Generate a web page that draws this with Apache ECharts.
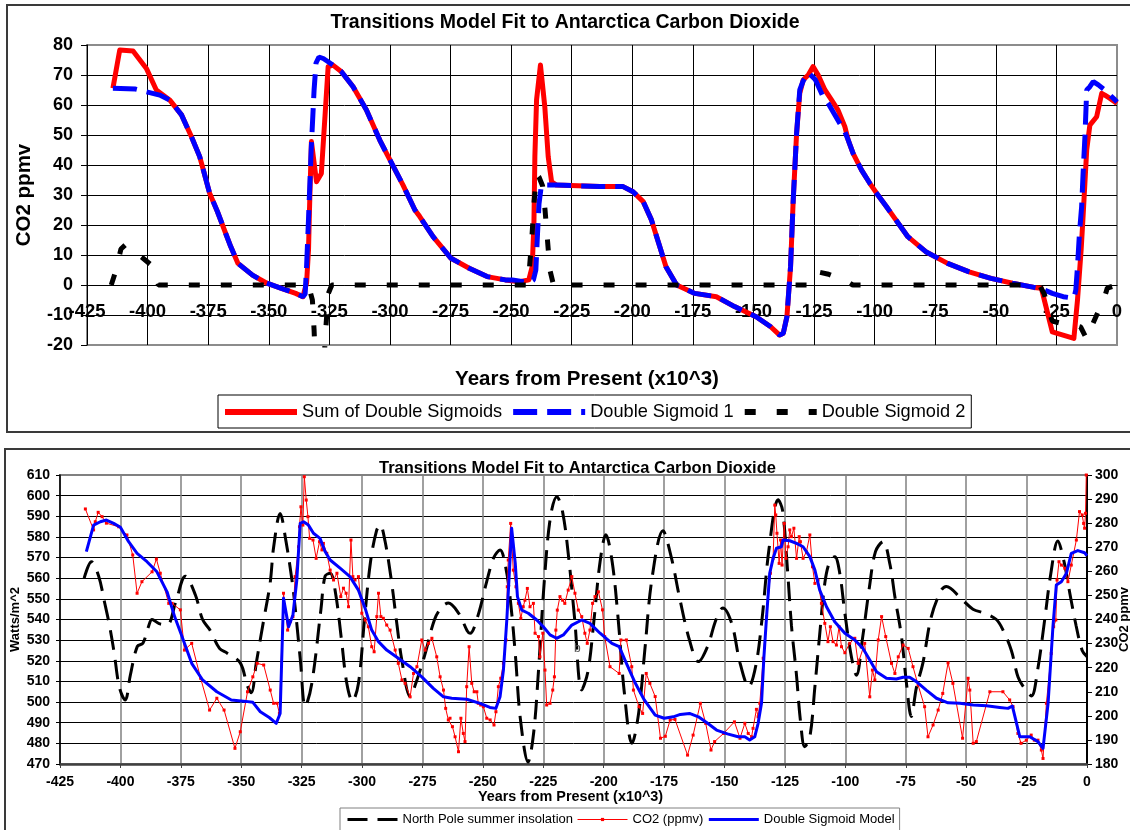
<!DOCTYPE html>
<html>
<head>
<meta charset="utf-8">
<title>Transitions Model Fit to Antarctica Carbon Dioxide</title>
<script src="https://cdn.jsdelivr.net/npm/echarts@6/dist/echarts.min.js"></script>
<style>
  html, body { margin: 0; padding: 0; background: #fff; }
  #chart { width: 1130px; height: 830px; }
</style>
</head>
<body>
<div id="chart"></div>
<script>

// top panel: fitted sigmoid curves (ppmv anomaly)
const sumPoints = [
  [-414.3,65.6],[-411.5,78.3],[-406,78],[-400.5,72.2],[-396.4,65],[-390.9,61.7],[-386,56.7],[-381.9,49.4],
  [-378.5,42.8],[-374.4,30.6],[-371.2,24.5],[-365.7,12.8],[-362.7,7.2],[-356.7,3.3],[-350.8,0.6],[-344.8,-1.1],
  [-338.9,-2.8],[-335.9,-3.9],[-334.4,0.6],[-333.6,11.7],[-333.2,25],[-332.4,47.8],[-330.3,34.4],[-328.3,37.2],
  [-325.5,72.8],[-323.5,73.3],[-320,71.1],[-315.2,66.1],[-309.7,58.3],[-304.2,48.3],[-301.4,43.9],[-294.6,33.3],
  [-289.7,25],[-287.7,22.8],[-282.2,16.1],[-274.8,8.9],[-267.3,5.6],[-259.9,2.8],[-252.4,1.7],[-246.5,1.1],
  [-242.7,1.7],[-241.3,6.1],[-240.6,20],[-240.2,42.8],[-239.5,61.7],[-237.9,73.3],[-236.1,59.4],[-234.7,42.8],
  [-233.3,34.4],[-231.3,33.3],[-213.4,32.8],[-203.8,32.8],[-199.7,31.1],[-195.5,27.8],[-192.1,21.7],[-189.1,13.9],
  [-186.1,6.1],[-181.7,0],[-174.2,-2.8],[-165.3,-3.9],[-157.8,-7.2],[-148.9,-10.6],[-142.9,-13.9],[-139.2,-16.7],
  [-137.7,-16.1],[-136.2,-10.6],[-134.7,6.1],[-133.6,28.3],[-132.2,50.6],[-130.9,63.9],[-129.5,68.3],[-127.4,70],
  [-125.4,72.8],[-123.3,70],[-120.5,65],[-117.8,61.7],[-115.1,58.3],[-112.3,52.8],[-110.9,48.3],[-108.9,43.9],
  [-105.4,38.3],[-102,33.9],[-99.2,30.6],[-95.1,26.1],[-91.7,22.2],[-86.3,16.1],[-78.9,11.1],[-69.9,7.2],
  [-61,4.4],[-52,2.2],[-43.1,0.6],[-34.2,-0.8],[-31.2,-1.1],[-26.7,-15.6],[-17.8,-17.8],[-16.3,-5],
  [-14.8,11.7],[-14,22.8],[-12.5,45],[-11.2,53.3],[-8.4,56.1],[-6.3,63.9],[-5,63.3],[-2.9,62.2],[0,60.5]
];

const sigmoid1Points = [
  [-414.3,65.6],[-405,65.3],[-400,64.3],[-395,63.3],[-390.9,61.7],[-386,56.7],[-381.9,49.4],[-378.5,42.8],
  [-374.4,30.6],[-371.2,24.5],[-365.7,12.8],[-362.7,7.2],[-356.7,3.3],[-350.8,0.6],[-344.8,-1.1],[-338.9,-2.8],
  [-335.9,-3.9],[-335,-3],[-334.4,6],[-333.6,22],[-332.5,45],[-331.3,65],[-330.5,74],[-329.3,76],
  [-327.5,75.5],[-325.5,74.4],[-323.5,73.3],[-320,71.1],[-315.2,66.1],[-309.7,58.3],[-304.2,48.3],[-301.4,43.9],
  [-294.6,33.3],[-289.7,25],[-287.7,22.8],[-282.2,16.1],[-274.8,8.9],[-267.3,5.6],[-259.9,2.8],[-252.4,1.7],
  [-249.5,1.7],[-245,1.1],[-242.7,0.6],[-240.8,1.7],[-239.8,5],[-239.1,17.2],[-238.5,27],[-237.5,33.3],
  [-231.3,33.3],[-213.4,32.8],[-203.8,32.8],[-199.7,31.1],[-195.5,27.8],[-192.1,21.7],[-189.1,13.9],[-186.1,6.1],
  [-181.7,0],[-174.2,-2.8],[-165.3,-3.9],[-157.8,-7.2],[-148.9,-10.6],[-142.9,-13.9],[-139.2,-16.7],[-137.7,-16.1],
  [-136.2,-10.6],[-134.7,6.1],[-133.6,28.3],[-132.2,50.6],[-130.9,65],[-129.5,68],[-127.4,70.8],[-124.5,68.5],
  [-121.3,62.8],[-119.2,60.6],[-116.4,56.7],[-113.6,52.8],[-112.3,51.1],[-110.9,48.3],[-108.9,43.9],[-105.4,38.3],
  [-102,33.9],[-99.2,30.6],[-95.1,26.1],[-91.7,22.2],[-86.3,16.1],[-78.9,11.1],[-69.9,7.2],[-61,4.4],
  [-52,2.2],[-43.1,0.6],[-34.2,-0.8],[-30,-1.6],[-26.7,-2.8],[-22.2,-3.9],[-17.8,-4.4],[-17,-1.7],
  [-16.3,6.1],[-15.5,17.2],[-14.6,26],[-14,37],[-13.2,50],[-12.5,65],[-11.2,66.1],[-9.8,67.8],
  [-7.7,66.7],[-5,65],[-2.9,63.3],[-0.8,61.7],[0,61]
];

const sigmoid2Points = [
  [-415,0],[-413,5],[-411,12],[-409,13.5],[-406,11.5],[-402,9],[-399,7],[-395.5,0],
  [-334,0],[-333,-2],[-332,-5],[-331.3,-15],[-330.3,-35],[-329,-40],[-327.5,-30],[-326.5,-15],
  [-325.5,-3],[-324,0],[-243,0],[-241.5,15],[-240.5,28],[-239.5,37],[-238.5,36],[-237,33],
  [-236,25],[-235,15],[-234,5],[-232.5,0],[-127,0],[-125,3],[-123.6,4.4],[-119,3.6],
  [-114,2],[-111,1],[-109,0],[-32,0],[-30,-3],[-28,-9],[-26.7,-12],[-22,-13],
  [-17.8,-13.3],[-15,-14],[-12.5,-18],[-10,-13],[-7.3,-8],[-5.5,-5],[-4,-1],[0,0]
];

// bottom panel: insolation (W/m^2, left axis), CO2 and model (ppmv, right axis)
const insolationPoints = [
  [-415,560],[-412,568],[-409,561],[-406.5,548],[-404.5,537],[-402.6,524],[-400.4,507],[-398,501],
  [-395.9,513],[-393,527],[-390.7,528.5],[-388.4,536.5],[-386.9,540],[-384,538],[-380.7,537.4],[-377,549],
  [-373.1,561],[-369,552],[-366,540],[-363,535],[-359,526],[-355.8,523.7],[-350.4,519],[-347.5,508],
  [-345.8,504.5],[-343.8,518.8],[-340.7,539.8],[-338,558],[-336.6,575],[-333.9,591.4],[-331.5,578],[-329,559],
  [-327.7,546],[-325.5,520],[-323.5,497.8],[-320.8,509],[-317,545],[-315.3,561],[-313.2,562.4],[-311,553],
  [-308.5,530],[-306.3,509],[-304,500.5],[-301.5,509],[-299,540],[-296.5,568],[-294,583],[-292.5,585.8],
  [-290.5,578],[-288,560],[-285.5,537],[-283.5,520],[-280.1,502.6],[-277.5,510],[-274,523],[-270,540],
  [-267,546],[-264.3,548],[-260,543],[-255.3,533.3],[-252,542],[-248.5,558],[-245.5,570],[-242.9,573.7],
  [-240.5,565],[-238.5,548],[-236.5,522],[-234.5,492],[-231.3,471],[-229,485],[-227,515],[-224.5,560],
  [-222,590],[-219.4,599.5],[-217,592],[-214.5,570],[-212,540],[-209.1,505.9],[-206.5,515],[-204,540],
  [-201.5,568],[-199.1,581],[-196.5,568],[-194,540],[-191.5,505],[-188.3,480],[-185.5,495],[-183,525],
  [-180,560],[-175.5,583],[-172,570],[-168.5,550],[-164.5,530],[-160.8,519.6],[-157,527],[-153.5,540],
  [-150.7,545.6],[-147,538],[-143.6,519],[-140,507.5],[-137,518],[-134.5,540],[-131.5,575],[-127.8,598],
  [-126,593],[-124,565],[-122.3,537],[-120.3,514],[-118.5,490],[-116.8,478.4],[-114.7,483],[-112.6,507.5],
  [-110.6,533],[-108.5,557.6],[-106.5,568],[-104.4,570.4],[-102.4,563],[-100.2,543],[-97.5,522],[-95.4,513],
  [-93,530],[-90,556],[-87.5,573],[-84.4,577.7],[-81.6,567],[-79.5,551],[-76.8,532],[-74.7,509],
  [-72.7,493],[-70.6,507],[-67.9,519],[-64.5,541],[-60.4,554],[-58.2,556],[-52,550],[-47.2,545],
  [-42.3,543],[-37.5,540],[-34.8,535],[-31.3,525],[-28.5,512],[-25.5,506],[-23,503],[-20.5,515],
  [-17.5,540],[-15,562],[-12.1,578],[-9.5,568],[-7,552],[-4.5,537],[-2,525],[0,522]
];

const co2Points = [
  [-414.5,285.9],[-411.1,277.2],[-410.4,280.6],[-409.2,284.5],[-407.6,282.7],[-405.8,280],[-400.7,278.5],[-397.3,275.1],
  [-394.9,266.8],[-393.1,250.9],[-391.1,255.7],[-386.9,259.8],[-385.1,265.1],[-383.5,259.2],[-380,246.7],[-378.6,246.7],
  [-375.2,244],[-373.5,227.3],[-370.5,230.1],[-366.8,215.6],[-363.1,202.4],[-360.1,207.3],[-357.1,202.4],[-352.6,186.5],
  [-350.4,193.4],[-347.4,210],[-345.2,216.2],[-343.4,221.8],[-340.7,221.1],[-338,210.7],[-336.6,205.2],[-335.2,205.2],
  [-334.2,201],[-332.5,250.9],[-330.8,235.6],[-329.7,239.1],[-328.6,241.2],[-327.7,257.8],[-326.3,270.2],[-325.9,278.5],
  [-325.3,286.8],[-324.5,279.2],[-323.9,299.3],[-323.1,289.6],[-322.4,282.7],[-321.7,273.7],[-320.3,273],[-319,265.4],
  [-317.6,272.3],[-316.6,268.9],[-316,271.6],[-314.6,267.5],[-313.2,260.5],[-311.8,256.4],[-310.4,259.2],[-308.8,249.5],
  [-307.7,253],[-306.6,250.9],[-305.6,245.3],[-304.6,273],[-303.8,257.8],[-302.9,256.4],[-301.5,257.8],[-300.1,242.6],
  [-298.7,239.8],[-297.4,237],[-296,228.7],[-295,226.6],[-293.9,241.2],[-293.2,250.9],[-292.2,241.2],[-291.2,240.5],
  [-289.8,237.7],[-288.4,235.6],[-286.3,227.3],[-285,221.8],[-283.5,214.9],[-282.2,213.5],[-280.1,207.9],[-278.7,217.6],
  [-277.3,220.4],[-275.3,231.5],[-273.9,227.3],[-272.5,230.1],[-271.1,232.2],[-269.1,224.5],[-267.7,216.2],[-266.3,210.7],
  [-265.4,203.1],[-264.3,198.3],[-263.6,199],[-262.6,195.5],[-261.5,191.3],[-260.1,185.1],[-259.1,199],[-258.1,192.7],
  [-257.4,189.3],[-256.7,212.1],[-255.7,228.7],[-254.6,213.5],[-253.6,210],[-252.5,210],[-251.9,205.2],[-250.9,204.5],
  [-249.8,203.8],[-248.4,199],[-247,198.3],[-245.4,196.2],[-244.6,201.7],[-243.6,212.1],[-242.6,215.6],[-241.5,221.8],
  [-240.4,231.5],[-239.9,253.6],[-239.5,264.7],[-238.5,279.9],[-237.4,260.5],[-236.3,253.6],[-235.3,246.7],[-234.3,240.5],
  [-233.3,245.3],[-232.6,248],[-231.6,252.9],[-230.5,245.3],[-229.1,246.7],[-228.4,234.3],[-227,232.9],[-226.4,224.5],
  [-225.2,234.3],[-224.3,219],[-223.6,204.5],[-222.2,205.2],[-221.1,210.7],[-220.4,216.2],[-219.8,235.6],[-219.2,243.9],
  [-218.1,249.5],[-217,248],[-216.1,246.7],[-214.7,252.2],[-213.2,257.8],[-211.9,250.9],[-210.5,243.9],[-209.1,241.2],
  [-207.8,234.3],[-206.8,230.1],[-205.7,235.6],[-204.6,246.7],[-203.6,249.5],[-202.2,251.5],[-200.5,244],[-199.6,232.9],
  [-197.4,220.4],[-193.6,217.6],[-192.9,231.5],[-190.6,231.5],[-188.4,220.4],[-187.7,210.7],[-185.4,203.8],[-183.9,201],
  [-182.4,217.6],[-180.9,213.5],[-178.7,208],[-176.5,190.7],[-174.5,191.5],[-172.5,198.3],[-170.5,198.5],[-165.3,183.7],
  [-163,192],[-160,205.2],[-157.8,196.9],[-155.6,185.8],[-154.1,189.3],[-150.4,192.7],[-145.9,197.5],[-143.6,190.7],
  [-141.6,196.9],[-140.2,192.7],[-138.8,191.3],[-138.2,194.8],[-136.8,202.7],[-136.1,199.6],[-135.4,205.2],[-134,223.9],
  [-132.6,241.2],[-131,259.2],[-129.9,265.4],[-129.2,287.5],[-128.8,283.4],[-128.3,275.8],[-127.4,263.3],[-126.8,273],
  [-126.2,262.6],[-125.3,279.9],[-124.6,265.4],[-123.7,270.2],[-123,277.2],[-122.3,274.4],[-121.3,277.9],[-120.2,265.4],
  [-119.1,274.4],[-118.6,272.3],[-117.5,265.4],[-116.1,268.1],[-114.7,275.1],[-113.6,261.9],[-112.6,255],[-111.3,256.4],
  [-109.9,246.7],[-108.5,238.4],[-107.2,230.8],[-106.2,237],[-105.1,230.8],[-103.7,229.4],[-102.6,237],[-101.6,228.7],
  [-100.2,226.2],[-98.2,230.1],[-96.1,232.2],[-94.7,221.8],[-92,230.1],[-89.9,207.9],[-88.8,219],[-87.8,214.9],
  [-86.4,231.5],[-85,241.2],[-83.3,232.9],[-80.9,221.8],[-79.5,217.6],[-78.1,224.5],[-76.1,229.4],[-74,228],
  [-72,220.4],[-69.9,212.8],[-67.2,203.8],[-65.8,191.3],[-63.7,196.2],[-61.6,202.4],[-59.7,209.3],[-57.5,222],
  [-55.5,213.5],[-51.5,190.7],[-49.2,215.6],[-48.5,210.7],[-47.1,188.6],[-45.8,189.3],[-40.2,210],[-34.8,210],
  [-32,206.6],[-30.6,203.8],[-28.6,192.7],[-27.3,188.6],[-25.1,189.9],[-23.1,192],[-21.8,189.9],[-20.3,189.9],
  [-18.9,185.8],[-18.2,182.3],[-16.8,205.2],[-14.8,225.9],[-13.8,237],[-12.9,239.8],[-12.4,256.4],[-11.6,264],
  [-10.6,262.6],[-9.2,261.3],[-7.9,255.7],[-6.5,262.6],[-4.4,273],[-3.1,284.8],[-2,283.4],[-1.4,279.9],
  [-1,277.9],[-0.6,284.1],[-0.3,300]
];

const modelPoints = [
  [-414.1,268.2],[-411.1,279.2],[-408.3,280.6],[-405.8,281.3],[-402.8,279.9],[-400,278.3],[-396.6,272.3],[-393.1,267.5],
  [-389,264],[-384.9,259.8],[-380.7,251.5],[-377.5,241],[-375,234.3],[-370.5,221.8],[-366,214.9],[-360.1,210],
  [-354.1,206.6],[-348.1,206],[-345.2,205.6],[-342.1,201.7],[-338.4,199.3],[-335.5,196.9],[-333.9,201],[-332.5,248.8],
  [-330.4,237],[-328.6,241.9],[-327,256.4],[-325.6,279.9],[-324.2,280.6],[-322.2,279.2],[-320.1,275.8],[-317.4,273.7],
  [-315.3,268.2],[-313.2,264.7],[-309.1,261.3],[-305,257.8],[-301.5,252.2],[-298.7,244.6],[-296,235.6],[-293.2,230.8],
  [-289.8,227.3],[-285,223.9],[-280.1,220.4],[-275.3,216.2],[-270.5,211.4],[-266.3,207.9],[-262.9,207.3],[-256.7,206.9],
  [-251.2,205.2],[-247.1,203.5],[-244.6,203.1],[-242.9,207.9],[-241.5,219],[-240.1,239.8],[-239,260.5],[-238.1,277.9],
  [-236.6,263.3],[-235.7,249.5],[-233.9,243.9],[-231.2,242.6],[-227.7,239.8],[-225,237],[-222.2,233.6],[-219.5,232.2],
  [-216.7,233.6],[-213.2,237.7],[-209.1,239.8],[-205.7,238.4],[-201.5,234.3],[-196.6,230.1],[-193.6,228.7],[-190.6,221.8],
  [-186.9,213.5],[-183.2,206.6],[-178.7,200.3],[-175,199],[-171.2,199.6],[-168.3,200.6],[-164.5,201],[-160.8,199.6],
  [-157,196.9],[-153.3,194.1],[-148.8,192.5],[-144.4,191.3],[-141.6,191.3],[-139.6,190],[-137.5,191.3],[-136.1,196.9],
  [-134.7,205.2],[-133.7,224.5],[-132.6,241.2],[-131.3,259.2],[-129.9,265.4],[-128.5,269.6],[-126.5,270.2],[-125.8,273],
  [-123,272.7],[-120.2,271.6],[-117.5,270.2],[-114.7,266.1],[-112.6,260.5],[-110.6,252.2],[-107.8,245.3],[-104.4,239.1],
  [-100.2,234.3],[-96.1,231.5],[-92.7,228],[-89.9,223.2],[-87.1,218.3],[-83,215.6],[-78.9,215.3],[-76.1,216],
  [-73.4,216],[-70.6,214.2],[-66.5,210.7],[-62.3,207.3],[-57.5,205.4],[-52.6,205.2],[-47.1,204.5],[-41.6,204.2],
  [-36.1,203.5],[-32.7,203.1],[-30.9,204.1],[-27.8,191.3],[-23.7,191.3],[-20.3,189.3],[-18.2,186.5],[-16.1,205.2],
  [-14.1,237],[-12.7,254.3],[-10.6,255.7],[-8.5,259.2],[-6.5,267.5],[-3.8,268.6],[-1,267.7],[0,266.5]
];

const FONT = '"Liberation Sans", Arial, sans-serif';
const NO_MARK = { color: 'transparent', borderWidth: 0 };

const chart = echarts.init(document.getElementById('chart'));

const option = {
  animation: false,
  backgroundColor: '#fff',
  textStyle: { fontFamily: FONT, color: '#000' },
  title: [
    {
      text: 'Transitions Model Fit to Antarctica Carbon Dioxide',
      left: 'center', top: 8,
      textStyle: { fontFamily: FONT, fontSize: 19.5, fontWeight: 'bold', color: '#000' }
    },
    {
      text: 'Transitions Model Fit to Antarctica Carbon Dioxide',
      left: 374, top: 455,
      textStyle: { fontFamily: FONT, fontSize: 16.5, fontWeight: 'bold', color: '#000' }
    }
  ],
  legend: [
    {
      data: [
        { name: 'Sum of Double Sigmoids', itemStyle: NO_MARK },
        { name: 'Double Sigmoid 1', itemStyle: NO_MARK },
        { name: 'Double Sigmoid 2', itemStyle: NO_MARK }
      ],
      left: 218, top: 395,
      itemWidth: 72, itemHeight: 8, itemGap: 8,
      padding: [8, 6, 7, 4],
      borderColor: '#000', borderWidth: 1,
      lineStyle: { width: 6 },
      textStyle: { fontFamily: FONT, fontSize: 18.2, color: '#000' }
    },
    {
      data: [
        { name: 'North Pole summer insolation', itemStyle: NO_MARK, lineStyle: { width: 3 } },
        { name: 'CO2 (ppmv)', lineStyle: { width: 1, color: '#ff0000' } },
        { name: 'Double Sigmoid Model', itemStyle: NO_MARK, lineStyle: { width: 3 } }
      ],
      left: 340, top: 808,
      itemWidth: 50, itemHeight: 4, itemGap: 4,
      padding: [5, 5, 5, 6],
      borderColor: '#808080', borderWidth: 1,
      textStyle: { fontFamily: FONT, fontSize: 13, color: '#000' }
    }
  ],
  grid: [
    { left: 87, top: 45, width: 1030, height: 300, outerBoundsMode: 'none', containLabel: false,
      show: true, borderColor: '#8c8c8c', borderWidth: 2, backgroundColor: 'transparent' },
    { left: 60, top: 475, width: 1027, height: 289, outerBoundsMode: 'none', containLabel: false,
      show: true, borderColor: '#808080', borderWidth: 2, backgroundColor: 'transparent' }
  ],
  xAxis: [
    {
      // axis sits on the zero line of the top panel (20 units above the bottom edge)
      gridIndex: 0, type: 'value', min: -425, max: 0, interval: 25,
      position: 'bottom', offset: -60,
      axisLine: { onZero: false, lineStyle: { color: '#000', width: 1 } },
      axisTick: { show: false },
      axisLabel: { fontFamily: FONT, fontSize: 18.5, fontWeight: 'bold', color: '#000', margin: 17, showMinLabel: true, showMaxLabel: true },
      splitLine: { show: true, showMinLine: false, showMaxLine: false, lineStyle: { color: '#000', width: 1 } },
      name: 'Years from Present (x10^3)', nameLocation: 'middle', nameGap: 84,
      nameTextStyle: { fontFamily: FONT, fontSize: 20.5, fontWeight: 'bold', color: '#000', padding: [0, 30, 0, 0] }
    },
    {
      gridIndex: 1, type: 'value', min: -425, max: 0, interval: 25,
      axisLine: { onZero: false, lineStyle: { color: '#404040', width: 2.5 } },
      axisTick: { show: true, length: 4, lineStyle: { color: '#404040' } },
      axisLabel: { fontFamily: FONT, fontSize: 14, fontWeight: 'bold', color: '#000', margin: 11, showMinLabel: true, showMaxLabel: true },
      splitLine: { show: true, showMinLine: false, showMaxLine: false, lineStyle: { color: '#808080', width: 1.5 } },
      name: 'Years from Present (x10^3)', nameLocation: 'middle', nameGap: 26,
      nameTextStyle: { fontFamily: FONT, fontSize: 14.4, fontWeight: 'bold', color: '#000', padding: [0, 6, 0, 0] }
    }
  ],
  yAxis: [
    {
      gridIndex: 0, type: 'value', min: -20, max: 80, interval: 10,
      axisLine: { show: true, onZero: false, lineStyle: { color: '#000', width: 1 } },
      axisTick: { show: true, length: 6, lineStyle: { color: '#000' } },
      axisLabel: { fontFamily: FONT, fontSize: 18, fontWeight: 'bold', color: '#000', margin: 14 },
      splitLine: { show: true, showMinLine: false, showMaxLine: false, lineStyle: { color: '#000', width: 1 } },
      name: 'CO2 ppmv', nameLocation: 'middle', nameGap: 52, nameRotate: 90,
      nameTextStyle: { fontFamily: FONT, fontSize: 20.5, fontWeight: 'bold', color: '#000' }
    },
    {
      gridIndex: 1, type: 'value', min: 470, max: 610, interval: 10,
      axisLine: { show: true, onZero: false, lineStyle: { color: '#000', width: 1.5 } },
      axisTick: { show: true, length: 4, lineStyle: { color: '#000' } },
      axisLabel: { fontFamily: FONT, fontSize: 14, fontWeight: 'bold', color: '#000', margin: 10 },
      splitLine: { show: true, showMinLine: false, showMaxLine: false, lineStyle: { color: '#000', width: 1 } },
      name: 'Watts/m^2', nameLocation: 'middle', nameGap: 38, nameRotate: 90, nameMoveOverlap: false,
      nameTextStyle: { fontFamily: FONT, fontSize: 13, fontWeight: 'bold', color: '#000' }
    },
    {
      gridIndex: 1, type: 'value', position: 'right', min: 180, max: 300, interval: 10,
      axisLine: { show: true, onZero: false, lineStyle: { color: '#000', width: 2 } },
      axisTick: { show: true, length: 5, lineStyle: { color: '#000' } },
      axisLabel: { fontFamily: FONT, fontSize: 14, fontWeight: 'bold', color: '#000', margin: 8 },
      splitLine: { show: false },
      name: 'CO2 ppmv', nameLocation: 'middle', nameGap: 31, nameRotate: 90, nameMoveOverlap: false,
      nameTextStyle: { fontFamily: FONT, fontSize: 13, fontWeight: 'bold', color: '#000' }
    }
  ],
  graphic: [
    { type: 'rect', shape: { x: 7, y: 5, width: 1140, height: 427 }, style: { fill: 'none', stroke: '#3a3a3a', lineWidth: 2 }, z: 100 },
    { type: 'rect', shape: { x: 5, y: 449, width: 1140, height: 400 }, style: { fill: 'none', stroke: '#3a3a3a', lineWidth: 2 }, z: 100 },
    { type: 'text', left: 574, top: 643, style: { text: 'b', fontFamily: FONT, fontSize: 12, fill: '#555' }, z: 100 }
  ],
  series: [
    {
      name: 'Sum of Double Sigmoids', type: 'line', xAxisIndex: 0, yAxisIndex: 0,
      data: sumPoints, symbol: 'none', z: 2,
      lineStyle: { color: '#ff0000', width: 5, join: 'round' },
      itemStyle: { color: '#ff0000' }
    },
    {
      name: 'Double Sigmoid 1', type: 'line', xAxisIndex: 0, yAxisIndex: 0,
      data: sigmoid1Points, symbol: 'none', z: 3,
      lineStyle: { color: '#0000ff', width: 5, type: [24, 10] },
      itemStyle: { color: '#0000ff' }
    },
    {
      name: 'Double Sigmoid 2', type: 'line', xAxisIndex: 0, yAxisIndex: 0,
      data: sigmoid2Points, symbol: 'none', z: 4,
      lineStyle: { color: '#000', width: 5, type: [11, 21] },
      itemStyle: { color: '#000' }
    },
    {
      name: 'North Pole summer insolation', type: 'line', xAxisIndex: 1, yAxisIndex: 1,
      data: insolationPoints, symbol: 'none', smooth: 0.35, z: 2,
      lineStyle: { color: '#000', width: 3, type: [20, 10] },
      itemStyle: { color: '#000' }
    },
    {
      name: 'CO2 (ppmv)', type: 'line', xAxisIndex: 1, yAxisIndex: 2,
      data: co2Points, symbol: 'rect', symbolSize: 3, showSymbol: true, z: 3,
      lineStyle: { color: '#ff0000', width: 1 },
      itemStyle: { color: '#ff0000' }
    },
    {
      name: 'Double Sigmoid Model', type: 'line', xAxisIndex: 1, yAxisIndex: 2,
      data: modelPoints, symbol: 'none', z: 4,
      lineStyle: { color: '#0000ff', width: 3, join: 'round' },
      itemStyle: { color: '#0000ff' }
    }
  ]
};

chart.setOption(option);
</script>
</body>
</html>
